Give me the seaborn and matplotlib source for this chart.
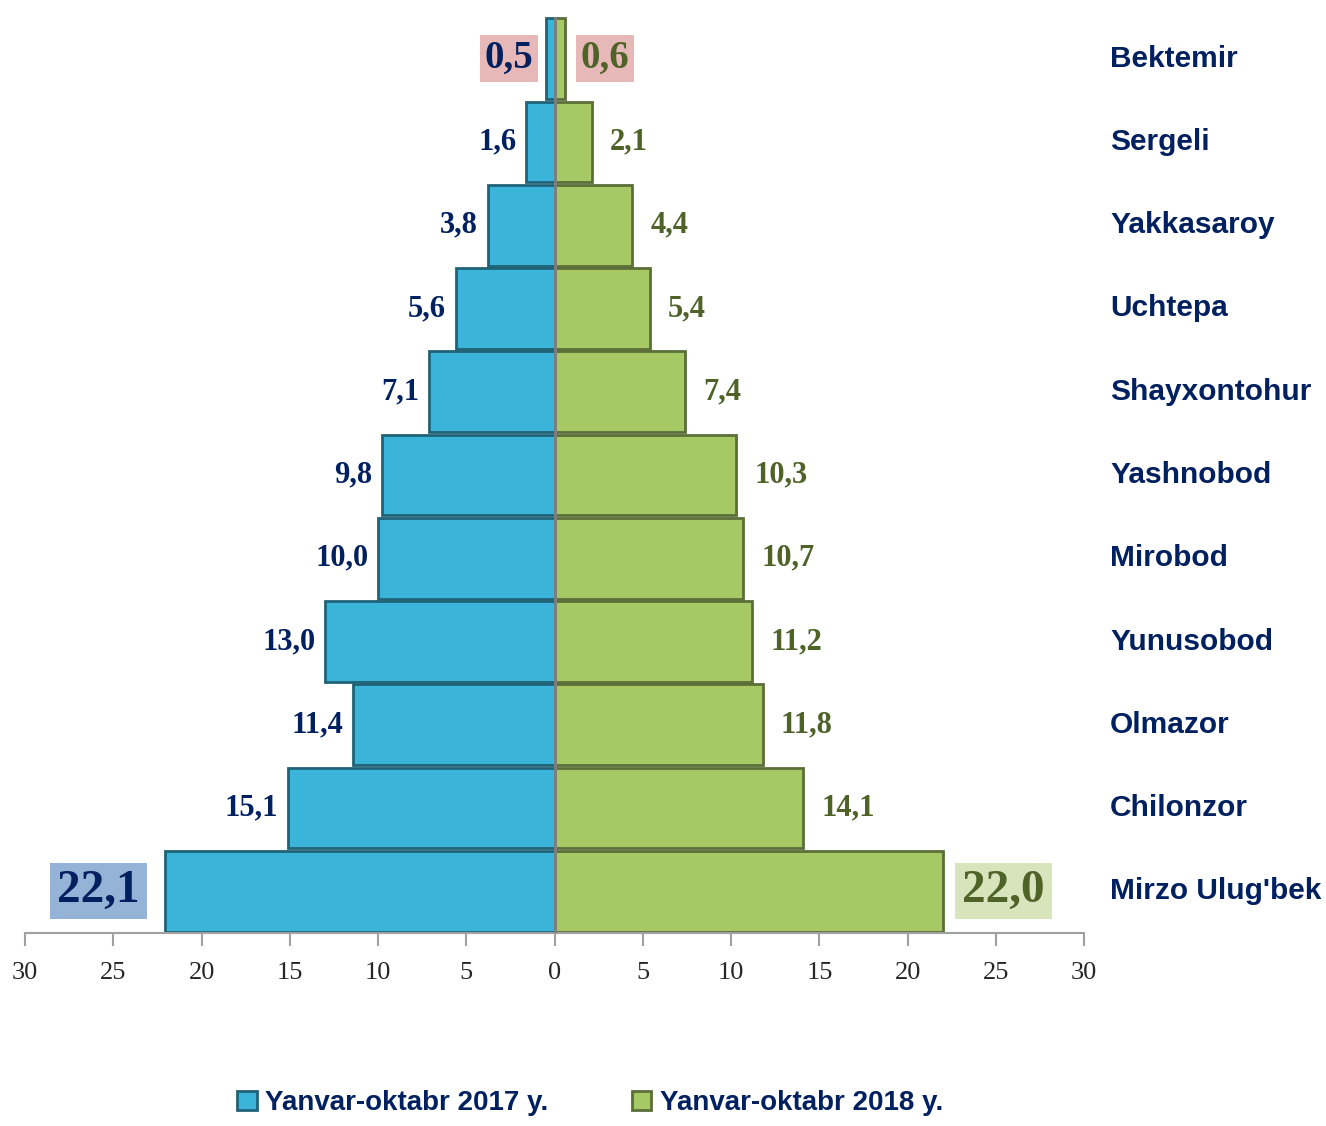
import numpy as np
import pandas as pd
import seaborn as sns
import matplotlib.pyplot as plt
from matplotlib.transforms import blended_transform_factory

districts = ["Bektemir", "Sergeli", "Yakkasaroy", "Uchtepa", "Shayxontohur",
             "Yashnobod", "Mirobod", "Yunusobod", "Olmazor", "Chilonzor",
             "Mirzo Ulug'bek"]
v2017 = [0.5, 1.6, 3.8, 5.6, 7.1, 9.8, 10.0, 13.0, 11.4, 15.1, 22.1]
v2018 = [0.6, 2.1, 4.4, 5.4, 7.4, 10.3, 10.7, 11.2, 11.8, 14.1, 22.0]
series = ["Yanvar-oktabr 2017 y.", "Yanvar-oktabr 2018 y."]
ticks = [-30, -25, -20, -15, -10, -5, 0, 5, 10, 15, 20, 25, 30]

NAVY = "#002060"
OLIVE = "#4F6228"
BLUE = "#3AB4D8"
GREEN = "#A6C965"

df = pd.DataFrame({
    "district": districts * 2,
    "value": [-v for v in v2017] + v2018,
    "series": [series[0]] * len(districts) + [series[1]] * len(districts),
})

sns.set_style("white")
fig = plt.figure(figsize=(13.26, 11.26), dpi=100)
ax = fig.add_axes([0.0189, 0.1714, 0.7987, 0.8135])

sns.barplot(data=df, x="value", y="district", hue="series", order=districts,
            hue_order=series, dodge=False, orient="h", width=0.97,
            palette=[BLUE, GREEN], saturation=1, ax=ax)

# darker edges for a bevelled look
for patch in ax.patches:
    fc = patch.get_facecolor()
    patch.set_edgecolor(tuple(c * 0.55 for c in fc[:3]) + (1,))
    patch.set_linewidth(2)

ax.axvline(0, color="#7F7F7F", lw=2, zorder=5)
ax.set_xlim(-30, 30)
ax.set_ylim(len(districts) - 0.5, -0.5)
ax.set_xticks(ticks)
ax.set_xticklabels([str(abs(t)) for t in ticks], fontfamily="Liberation Serif",
                   fontsize=19)
ax.tick_params(axis="x", direction="out", length=9, width=1.5, color="#A0A0A0",
               pad=12, bottom=True)
ax.set_yticks([])
ax.set_xlabel("")
ax.set_ylabel("")
for s in ["top", "left", "right"]:
    ax.spines[s].set_visible(False)
ax.spines["bottom"].set_color("#A0A0A0")
ax.spines["bottom"].set_linewidth(1.5)

# value labels
for i, (a, b) in enumerate(zip(v2017, v2018)):
    la, lb = f"{a:.1f}".replace(".", ","), f"{b:.1f}".replace(".", ",")
    size, box_a, box_b, off_a, off_b = 22, None, None, -7, 13
    if i == 0:
        size = 28
        box_a = dict(boxstyle="square,pad=0.12", fc="#E6B9B8", ec="none")
        box_b = dict(boxstyle="square,pad=0.12", fc="#E6B9B8", ec="none")
        off_a, off_b = -9, 11
    elif i == len(districts) - 1:
        size = 34
        box_a = dict(boxstyle="square,pad=0.15", fc="#95B3D7", ec="none")
        box_b = dict(boxstyle="square,pad=0.15", fc="#D7E4BC", ec="none")
        off_a, off_b = -18, 14
    ax.annotate(la, (-a, i), xytext=(off_a, 0), textcoords="offset points",
                ha="right", va="center", fontsize=size, fontweight="bold",
                fontfamily="Liberation Serif", color=NAVY, bbox=box_a)
    ax.annotate(lb, (b, i), xytext=(off_b, 0), textcoords="offset points",
                ha="left", va="center", fontsize=size, fontweight="bold",
                fontfamily="Liberation Serif", color=OLIVE, bbox=box_b)

# district names on the right
trans = blended_transform_factory(ax.transAxes, ax.transData)
for i, name in enumerate(districts):
    ax.text(1.0245, i, name, transform=trans, ha="left", va="center",
            fontsize=21.5, fontweight="bold", fontfamily="Liberation Sans",
            color=NAVY)

handles, labels = ax.get_legend_handles_labels()
ax.legend_.remove()
leg = fig.legend(handles, labels, loc="center", bbox_to_anchor=(0.445, 0.02),
                 ncol=2, frameon=False, handlelength=0.7, handleheight=0.7,
                 handletextpad=0.3, columnspacing=3.0, borderpad=0.1,
                 prop={"family": "Liberation Sans", "weight": "bold",
                       "size": 20})
for t in leg.get_texts():
    t.set_color(NAVY)

fig.savefig("out.png", dpi=100)
